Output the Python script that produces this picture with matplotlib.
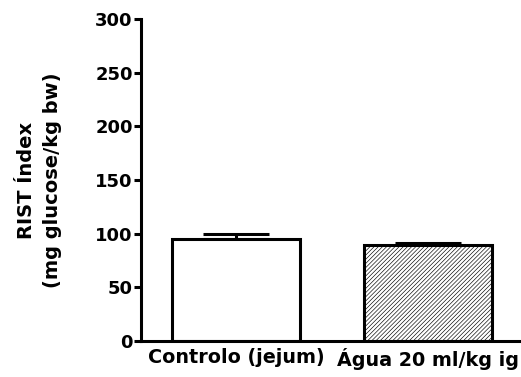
import matplotlib.pyplot as plt
import numpy as np

plt.rcParams['hatch.color'] = '#8a8a8a'
plt.rcParams['hatch.linewidth'] = 0.45

# data
groups = ['Controlo (jejum)', 'Água 20 ml/kg ig']
means = [95.3, 89.4]
sem = [4.5, 2.0]
hatches = ['', '////////']
yticks = [0, 50, 100, 150, 200, 250, 300]

fig = plt.figure(figsize=(5.21, 3.77), dpi=100)
ax = fig.add_axes([141 / 521, 36.3 / 377, 380 / 521, 321.4 / 377])

x = np.arange(len(groups))
lw = 2.2

# error bars (upper only)
ax.errorbar(x, means, yerr=[[0] * len(sem), sem], fmt='none', ecolor='black',
            elinewidth=lw, capsize=23.5, capthick=lw, zorder=1)

for xi, m, h in zip(x, means, hatches):
    ax.bar(xi, m, width=0.67, color='white', edgecolor='black',
           linewidth=lw, hatch=h, zorder=2)

ax.set_xlim(-0.495, 1.484)
ax.set_ylim(0, 300)
ax.set_yticks(yticks)
ax.set_xticks(x)
ax.set_xticklabels(groups)

for s in ['top', 'right']:
    ax.spines[s].set_visible(False)
for s in ['left', 'bottom']:
    ax.spines[s].set_linewidth(lw)

ax.tick_params(axis='y', width=lw, length=5, labelsize=13, pad=1)
ax.tick_params(axis='x', length=0, labelsize=13.8, pad=5)
for lab in ax.get_xticklabels() + ax.get_yticklabels():
    lab.set_fontweight('bold')

ax.set_ylabel('RIST Índex\n(mg glucose/kg bw)', fontsize=14,
              fontweight='bold', labelpad=24, linespacing=1.45)

plt.savefig('out.png', dpi=100)
